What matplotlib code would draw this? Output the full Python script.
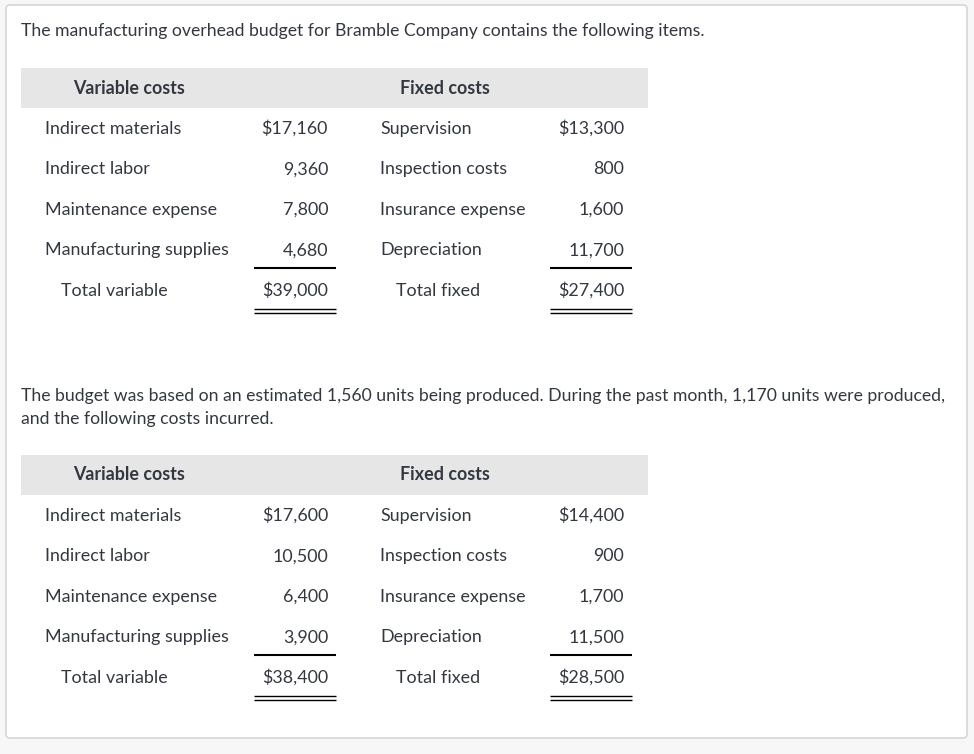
import matplotlib.pyplot as plt
from matplotlib.patches import FancyBboxPatch, Rectangle

plt.rcParams['font.family'] = ['Lato', 'DejaVu Sans']

# Budget data
intro = "The manufacturing overhead budget for Bramble Company contains the following items."
middle = ["The budget was based on an estimated 1,560 units being produced. During the past month, 1,170 units were produced,",
          "and the following costs incurred."]

variable_items = ["Indirect materials", "Indirect labor", "Maintenance expense", "Manufacturing supplies"]
fixed_items = ["Supervision", "Inspection costs", "Insurance expense", "Depreciation"]

budget_variable = ["$17,160", "9,360", "7,800", "4,680"]
budget_variable_total = "$39,000"
budget_fixed = ["$13,300", "800", "1,600", "11,700"]
budget_fixed_total = "$27,400"

actual_variable = ["$17,600", "10,500", "6,400", "3,900"]
actual_variable_total = "$38,400"
actual_fixed = ["$14,400", "900", "1,700", "11,500"]
actual_fixed_total = "$28,500"

W, H = 974, 754
fig = plt.figure(figsize=(W / 100, H / 100), dpi=100)
fig.patch.set_facecolor('#f7f7f7')
ax = fig.add_axes([0, 0, 1, 1])
ax.set_xlim(0, W)
ax.set_ylim(H, 0)
ax.axis('off')

# card with border
ax.add_patch(FancyBboxPatch((6, 5), 961, 733, boxstyle="round,pad=0,rounding_size=4",
                            facecolor='white', edgecolor='#d6d6d6', lw=1.2))

txt = '#333840'
fs = 12.9
fs_par = 12.7


def draw_table(top, var_vals, var_total, fix_vals, fix_total):
    ax.add_patch(Rectangle((21, top), 627, 40, facecolor='#e6e6e6', edgecolor='none'))
    hy = top + 25.5
    ax.text(129, hy, "Variable costs", ha='center', va='baseline', fontsize=fs, fontweight='bold', color=txt)
    ax.text(445, hy, "Fixed costs", ha='center', va='baseline', fontsize=fs, fontweight='bold', color=txt)
    row_y = [top + 66 + i * 40.4 for i in range(4)]
    for y, name, val, fname, fval in zip(row_y, variable_items, var_vals, fixed_items, fix_vals):
        ax.text(45, y, name, ha='left', va='baseline', fontsize=fs, color=txt)
        ax.text(328, y, val, ha='right', va='baseline', fontsize=fs, color=txt)
        ax.text(380, y, fname, ha='left', va='baseline', fontsize=fs, color=txt)
        ax.text(624, y, fval, ha='right', va='baseline', fontsize=fs, color=txt)
    ty = top + 228
    ax.text(61, ty, "Total variable", ha='left', va='baseline', fontsize=fs, color=txt)
    ax.text(328, ty, var_total, ha='right', va='baseline', fontsize=fs, color=txt)
    ax.text(396, ty, "Total fixed", ha='left', va='baseline', fontsize=fs, color=txt)
    ax.text(624, ty, fix_total, ha='right', va='baseline', fontsize=fs, color=txt)
    # underlines
    for x0, x1 in [(254, 336), (550, 632)]:
        ax.plot([x0, x1], [top + 200, top + 200], color='black', lw=1.5, solid_capstyle='butt')
        ax.plot([x0, x1], [top + 241, top + 241], color='black', lw=1.0, solid_capstyle='butt')
        ax.plot([x0, x1], [top + 244.5, top + 244.5], color='black', lw=1.0, solid_capstyle='butt')


ax.text(21, 36, intro, ha='left', va='baseline', fontsize=fs_par, color=txt)
draw_table(68, budget_variable, budget_variable_total, budget_fixed, budget_fixed_total)
ax.text(21, 401.5, middle[0], ha='left', va='baseline', fontsize=fs_par, color=txt)
ax.text(21, 424, middle[1], ha='left', va='baseline', fontsize=fs_par, color=txt)
draw_table(455, actual_variable, actual_variable_total, actual_fixed, actual_fixed_total)

fig.savefig('out.png', dpi=100, facecolor=fig.get_facecolor())
